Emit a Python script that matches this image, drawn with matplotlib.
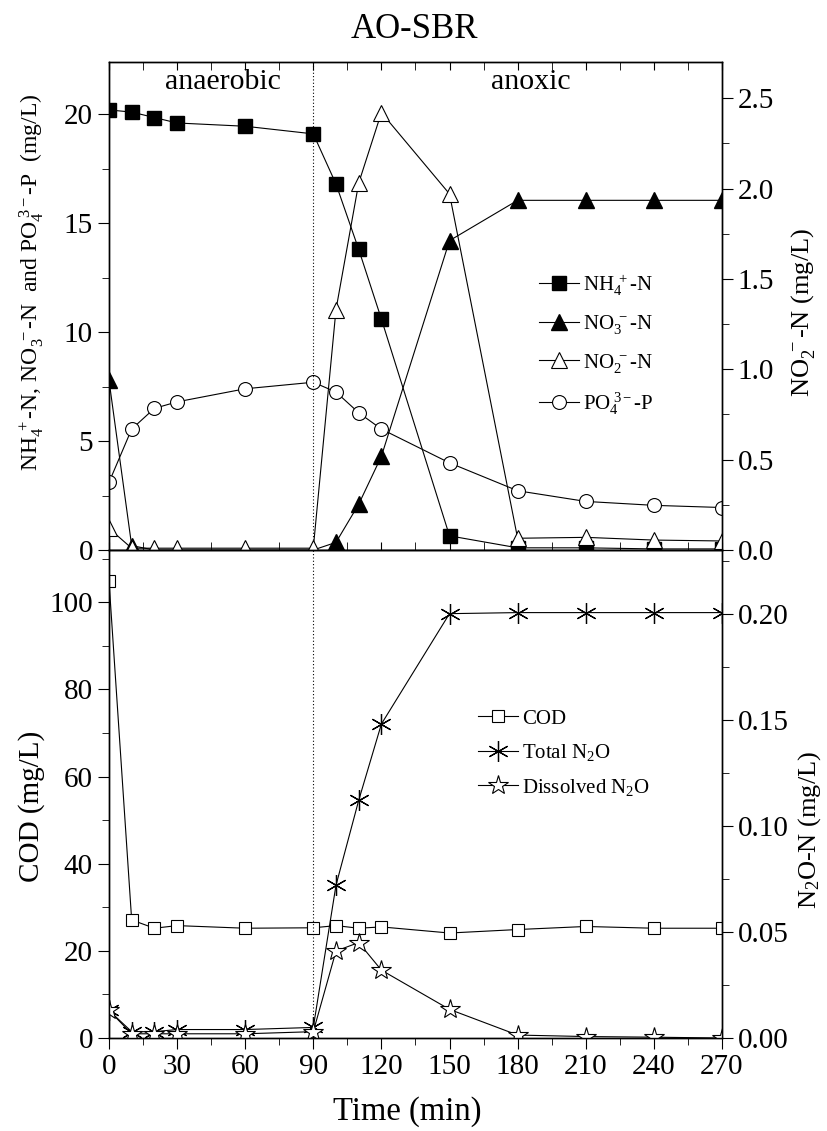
import matplotlib
matplotlib.use("Agg")
import matplotlib.pyplot as plt
from matplotlib.ticker import MultipleLocator

plt.rcParams["font.family"] = ["Liberation Serif", "DejaVu Serif"]
plt.rcParams["mathtext.fontset"] = "custom"
plt.rcParams["mathtext.rm"] = "Liberation Serif"
plt.rcParams["mathtext.it"] = "Liberation Serif:italic"
plt.rcParams["mathtext.bf"] = "Liberation Serif:bold"

# sampling times (min)
time = [0, 10, 20, 30, 60, 90, 100, 110, 120, 150, 180, 210, 240, 270]

# top panel, left axis (mg/L)
nh4 = [20.2, 20.1, 19.85, 19.6, 19.45, 19.1, 16.8, 13.8, 10.6, 0.65, 0.1, 0.1, 0.05, 0.05]
no3 = [7.8, 0.2, 0.0, 0.0, 0.0, 0.0, 0.35, 2.1, 4.3, 14.2, 16.05, 16.05, 16.05, 16.05]
po4 = [3.1, 5.55, 6.5, 6.8, 7.4, 7.7, 7.25, 6.3, 5.55, 4.0, 2.72, 2.23, 2.05, 1.95]
# top panel, right axis (mg/L)
no2 = [0.12, 0.01, 0.01, 0.01, 0.01, 0.01, 1.33, 2.03, 2.42, 1.97, 0.065, 0.07, 0.055, 0.05]

# bottom panel
cod = [105, 27.1, 25.2, 25.8, 25.2, 25.3, 25.8, 25.2, 25.5, 24.1, 24.9, 25.6, 25.2, 25.2]
n2o_total = [0.013, 0.003, 0.003, 0.004, 0.004, 0.005, 0.072, 0.112, 0.148, 0.200,
             0.2005, 0.2005, 0.2005, 0.2005]
n2o_dissolved = [0.013, 0.002, 0.002, 0.002, 0.002, 0.003, 0.041, 0.045, 0.032, 0.0135,
                 0.0014, 0.0007, 0.0004, 0.0]

K = "black"
LW = 0.8
TICK_FS = 21

fig = plt.figure(figsize=(8.28, 11.31), dpi=100)
ax1 = fig.add_axes([0.1316, 0.5137, 0.7403, 0.4315])
ax3 = fig.add_axes([0.1316, 0.0822, 0.7403, 0.4315])
ax2 = ax1.twinx()
ax4 = ax3.twinx()

# ---- top panel
h_nh4, = ax1.plot(time, nh4, color=K, lw=LW, marker="s", ms=10, mfc=K, mec=K, label=r"NH$_4^{\ +}$-N")
h_no3, = ax1.plot(time, no3, color=K, lw=LW, marker="^", ms=11, mfc=K, mec=K, label=r"NO$_3^{\ -}$-N")
h_po4, = ax1.plot(time, po4, color=K, lw=LW, marker="o", ms=10, mfc="white", mec=K, mew=LW,
                  label=r"PO$_4^{\ 3-}$-P")
h_no2, = ax2.plot(time, no2, color=K, lw=LW, marker="^", ms=11, mfc="white", mec=K, mew=LW,
                  label=r"NO$_2^{\ -}$-N")

ax1.set_xlim(0, 270)
ax1.set_ylim(0, 22.4)
ax2.set_ylim(0, 2.7)
ax1.axvline(90, color=K, lw=0.8, ls=(0, (1, 2)))

ax1.yaxis.set_major_locator(MultipleLocator(5))
ax1.yaxis.set_minor_locator(MultipleLocator(2.5))
ax2.yaxis.set_major_locator(MultipleLocator(0.5))
ax2.yaxis.set_minor_locator(MultipleLocator(0.25))
ax2.yaxis.set_major_formatter(lambda v, p: f"{v:.1f}")
ax1.xaxis.set_major_locator(MultipleLocator(30))
ax1.xaxis.set_minor_locator(MultipleLocator(15))
ax1.tick_params(axis="x", which="both", direction="in", top=True, bottom=True,
                labelbottom=False, length=6)
ax1.tick_params(axis="y", which="major", direction="out", length=8, labelsize=TICK_FS)
ax1.tick_params(axis="y", which="minor", direction="out", length=5)
ax2.tick_params(axis="y", which="major", direction="out", length=8, labelsize=TICK_FS)
ax2.tick_params(axis="y", which="minor", direction="out", length=5)

ax1.text(50, 21.5, "anaerobic", fontsize=21.5, ha="center", va="center")
ax1.text(186, 21.5, "anoxic", fontsize=21.5, ha="center", va="center")

ax2.legend(handles=[h_nh4, h_no3, h_no2, h_po4], loc="upper left",
           bbox_to_anchor=(539 / 828, 1 - 272 / 1131), bbox_transform=fig.transFigure,
           frameon=False, fontsize=15, handlelength=1.9, handletextpad=0.2,
           labelspacing=0.75, borderpad=0, borderaxespad=0)

# ---- bottom panel
h_cod, = ax3.plot(time, cod, color=K, lw=LW, marker="s", ms=9, mfc="white", mec=K, mew=LW, label="COD")
h_tot, = ax4.plot(time, n2o_total, color=K, lw=LW, marker=(6, 2, 0), ms=15, mec=K, mew=0.9,
                  label=r"Total N$_2$O")
h_dis, = ax4.plot(time, n2o_dissolved, color=K, lw=LW, marker="*", ms=15, mfc="white", mec=K,
                  mew=LW, label=r"Dissolved N$_2$O")

ax3.set_xlim(0, 270)
ax3.set_ylim(0, 112)
ax4.set_ylim(0, 0.23)
ax3.axvline(90, color=K, lw=0.8, ls=(0, (1, 2)))

ax3.xaxis.set_major_locator(MultipleLocator(30))
ax3.xaxis.set_minor_locator(MultipleLocator(15))
ax3.yaxis.set_major_locator(MultipleLocator(20))
ax3.yaxis.set_minor_locator(MultipleLocator(10))
ax4.yaxis.set_major_locator(MultipleLocator(0.05))
ax4.yaxis.set_minor_locator(MultipleLocator(0.025))
ax4.yaxis.set_major_formatter(lambda v, p: f"{v:.2f}")
ax3.tick_params(axis="both", which="major", direction="out", length=8, labelsize=TICK_FS)
ax3.tick_params(axis="both", which="minor", direction="out", length=5)
ax4.tick_params(axis="y", which="major", direction="out", length=8, labelsize=TICK_FS)
ax4.tick_params(axis="y", which="minor", direction="out", length=5)

ax4.legend(handles=[h_cod, h_tot, h_dis], loc="upper left",
           bbox_to_anchor=(478 / 828, 1 - 709 / 1131), bbox_transform=fig.transFigure,
           frameon=False, fontsize=15, handlelength=1.9, handletextpad=0.2,
           labelspacing=0.65, borderpad=0, borderaxespad=0)

for a in (ax1, ax2, ax3, ax4):
    for s in a.spines.values():
        s.set_linewidth(1.0)

# ---- labels
fig.text(0.5, 1 - 30 / 1131, "AO-SBR", fontsize=25, ha="center", va="center")
fig.text(407 / 828, 1 - 1112 / 1131, "Time (min)", fontsize=23.5, ha="center", va="center")
fig.text(32 / 828, 1 - 282 / 1131, r"NH$_4^{\ +}$-N, NO$_3^{\ -}$-N  and PO$_4^{\ 3-}$-P  (mg/L)",
         fontsize=17, rotation=90, ha="center", va="center")
fig.text(32 / 828, 1 - 806 / 1131, "COD (mg/L)", fontsize=21, rotation=90, ha="center", va="center")
fig.text(803 / 828, 1 - 312 / 1131, r"NO$_2^{\ -}$-N (mg/L)", fontsize=19, rotation=90,
         ha="center", va="center")
fig.text(810 / 828, 1 - 830 / 1131, r"N$_2$O-N (mg/L)", fontsize=19, rotation=90,
         ha="center", va="center")

fig.savefig("out.png", dpi=100, facecolor="white")
